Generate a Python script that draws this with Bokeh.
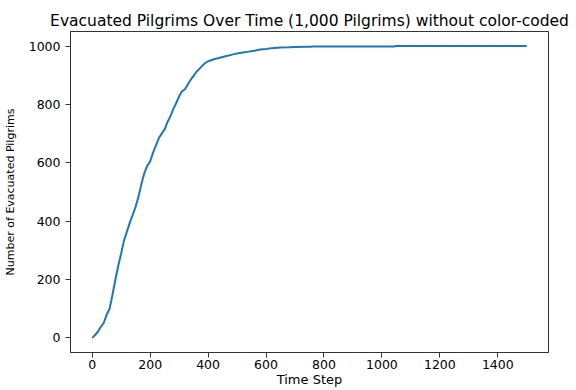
from bokeh.plotting import figure
from bokeh.models import Range1d, FixedTicker
from bokeh.embed import file_html
from bokeh.resources import INLINE

# Data
time_step = [0, 10, 20, 30, 40, 50, 60, 70, 80, 90, 100, 110, 120, 130, 140, 150,
             160, 170, 180, 190, 200, 210, 220, 230, 240, 250, 260, 270, 280, 290,
             300, 310, 320, 330, 340, 350, 360, 370, 380, 390, 400, 420, 440, 460,
             480, 500, 520, 540, 560, 580, 600, 620, 650, 680, 700, 740, 757, 758,
             1044, 1045, 1500]
evacuated = [0, 10, 22, 38, 52, 80, 100, 148, 200, 248, 290, 335, 365, 396, 422, 450,
             485, 528, 565, 590, 605, 635, 660, 685, 700, 715, 740, 760, 785, 805,
             828, 845, 852, 868, 885, 898, 912, 922, 933, 942, 948, 955, 960, 965,
             970, 975, 978, 981, 984, 988, 990, 993, 995, 996, 997, 998, 998, 999,
             999, 1000, 1000]
x_ticks = [0, 200, 400, 600, 800, 1000, 1200, 1400]
y_ticks = [0, 200, 400, 600, 800, 1000]

title_text = "Evacuated Pilgrims Over Time (1,000 Pilgrims) without color-coded"
font = "DejaVu Sans"

p = figure(frame_width=478, frame_height=321, output_backend="svg", toolbar_location=None,
           x_range=Range1d(-75, 1575), y_range=Range1d(-50, 1050),
           title=title_text,
           min_border_left=70, min_border_right=28, min_border_top=31,
           min_border_bottom=38)

p.line(time_step, evacuated, line_color="#1f77b4", line_width=2)

p.title.align = "center"
p.title.text_font = font
p.title.text_font_size = "15.5px"
p.title.text_font_style = "normal"
p.title.text_color = "#000000"
p.title.standoff = 4

p.xgrid.visible = False
p.ygrid.visible = False
p.outline_line_color = "#333333"
p.outline_line_width = 1
p.outline_line_alpha = 1

for ax, ticks, label in ((p.xaxis, x_ticks, "Time Step"),
                         (p.yaxis, y_ticks, "Number of Evacuated Pilgrims")):
    ax.ticker = FixedTicker(ticks=ticks)
    ax.axis_label = label
    ax.axis_label_text_font = font
    ax.axis_label_text_font_style = "normal"
    ax.axis_label_text_color = "#000000"
    ax.major_label_text_font = font
    ax.major_label_text_font_size = "12.5px"
    ax.major_label_text_color = "#000000"
    ax.axis_line_color = "#333333"
    ax.major_tick_line_color = "#333333"
    ax.major_tick_out = 5
    ax.major_tick_in = 0
    ax.minor_tick_line_color = None

p.xaxis.axis_label_text_font_size = "13px"
p.yaxis.axis_label_text_font_size = "11px"
p.xaxis.major_label_standoff = 2
p.xaxis.axis_label_standoff = 0
p.yaxis.major_label_standoff = 5
p.yaxis.axis_label_standoff = 9

open("out.html", "w").write(file_html(p, INLINE))
